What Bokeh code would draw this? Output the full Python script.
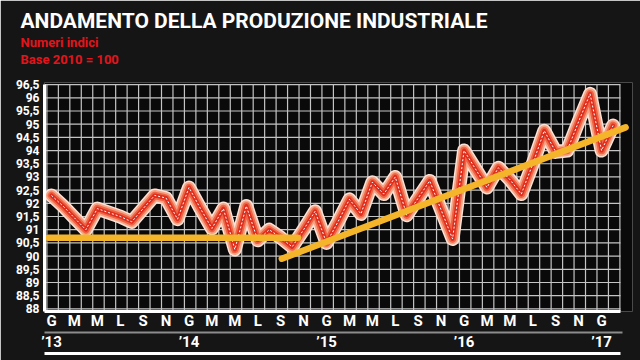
import numpy as np
from bokeh.plotting import figure
from bokeh.models import Range1d, FixedTicker, LinearAxis, Title
from bokeh.embed import file_html
from bokeh.resources import INLINE

# ---------------- data ----------------
TITLE = "ANDAMENTO DELLA PRODUZIONE INDUSTRIALE"
SUB1 = "Numeri indici"
SUB2 = "Base 2010 = 100"

# month index 0 = gennaio 2013 ... 49 = febbraio 2017
months = list(range(50))
values = [92.3, 91.9, 91.45, 91.0, 91.8, 91.65, 91.5, 91.3, 91.8, 92.3,
          92.2, 91.4, 92.6, 91.8, 91.05, 91.8, 90.25, 91.9, 90.6, 91.0,
          90.7, 90.35, 91.0, 91.7, 90.5, 91.3, 92.15, 91.6, 92.8, 92.35,
          93.0, 91.55, 92.2, 92.85, 91.75, 90.65, 94.0, 93.3, 92.6, 93.35,
          92.9, 92.35, 93.5, 94.75, 93.95, 94.0, 95.1, 96.15, 94.0, 94.95]

trend1_x = [-0.26, 21.5]
trend1_y = [90.7, 90.7]
trend2_x = [20.1, 50.1]
trend2_y = [89.9, 94.88]

month_ticks = list(range(0, 49, 2))
month_labels = ["G", "M", "M", "L", "S", "N"] * 4 + ["G"]
year_ticks = [0, 12, 24, 36, 48]
year_labels = ["’13", "’14", "’15", "’16", "’17"]
y_ticks = [88 + 0.5 * i for i in range(18)]
y_labels = [("%g" % t).replace(".", ",") for t in y_ticks]

# ---------------- style ----------------
FONT = "Roboto"
BG = "#151515"
PLOT_BG = "#0a0a0a"
GRID = "#c4c4c4"
RED = "#e3141b"
X0, X1 = -0.61, 50.7
Y0, Y1 = 87.9, 96.58
GRID_RIGHT = 49.65

p = figure(width=640, height=360, x_range=Range1d(X0, X1), y_range=Range1d(Y0, Y1),
           output_backend="svg", toolbar_location=None, title=None,
           min_border_left=44, min_border_right=8, min_border_top=82, min_border_bottom=49)
p.background_fill_color = PLOT_BG
p.border_fill_color = BG
p.outline_line_color = None
p.xgrid.visible = False
p.ygrid.visible = False

# grid drawn from tick arrays
vx = [k - 0.4 for k in range(51)]
p.segment(x0=vx, y0=[Y0] * len(vx), x1=vx, y1=[y_ticks[-1]] * len(vx),
          line_color=GRID, line_width=1.2)
p.segment(x0=[X0] * len(y_ticks), y0=y_ticks, x1=[GRID_RIGHT] * len(y_ticks), y1=y_ticks,
          line_color=GRID, line_width=1.2)

# glowing red series
for w, c in [(14, "#fde2d6"), (11, "#f6a386"), (7.5, "#ee6545"), (4, "#df2e1d")]:
    p.line(months, values, line_width=w, line_color=c, line_join="round", line_cap="round")
p.line(months, values, line_width=1, line_color="white", line_dash="2 2")

# trend lines
p.line(trend1_x, trend1_y, line_width=6.5, line_color="#f5b52a", line_cap="round")
p.line(trend2_x, trend2_y, line_width=6.5, line_color="#f5b52a", line_cap="round")

# y axis
ya = p.yaxis[0]
ya.ticker = FixedTicker(ticks=y_ticks)
ya.major_label_overrides = {t: l for t, l in zip(y_ticks, y_labels)}
ya.axis_line_color = "white"
ya.axis_line_width = 3
ya.bounds = (Y0, y_ticks[-1])
ya.major_tick_line_color = None
ya.minor_tick_line_color = None
ya.major_tick_out = 0
ya.major_label_standoff = 5
ya.major_label_text_font = FONT
ya.major_label_text_font_style = "bold"
ya.major_label_text_font_size = "12px"
ya.major_label_text_color = "white"

# month axis
xa = p.xaxis[0]
xa.ticker = FixedTicker(ticks=month_ticks)
xa.major_label_overrides = {t: l for t, l in zip(month_ticks, month_labels)}
xa.axis_line_color = "white"
xa.axis_line_width = 3
xa.bounds = (X0, GRID_RIGHT)
xa.major_tick_line_color = None
xa.minor_tick_line_color = None
xa.major_tick_out = 0
xa.major_label_standoff = 0
xa.major_label_text_font = FONT
xa.major_label_text_font_style = "bold"
xa.major_label_text_font_size = "15px"
xa.major_label_text_color = "white"

# year axis
ya2 = LinearAxis(ticker=FixedTicker(ticks=year_ticks),
                 major_label_overrides={t: l for t, l in zip(year_ticks, year_labels)},
                 axis_line_color="#8c8c8c", axis_line_width=2, bounds=(-0.96, 49.83),
                 major_tick_line_color=None, minor_tick_line_color=None, major_tick_out=0,
                 major_label_standoff=0, major_label_text_font=FONT,
                 major_label_text_font_style="bold", major_label_text_font_size="15px",
                 major_label_text_color="white")
p.add_layout(ya2, "below")

# bottom white rule
ya3 = LinearAxis(ticker=FixedTicker(ticks=[]), axis_line_color="white", axis_line_width=3,
                 bounds=(-0.8, GRID_RIGHT), major_tick_line_color=None,
                 minor_tick_line_color=None, major_tick_out=0,
                 major_label_text_font_size="0px")
p.add_layout(ya3, "below")

# titles (first added = closest to the frame)
p.add_layout(Title(text=" ", standoff=12, text_font_size="2px"), "above")
p.add_layout(Title(text=SUB2, align="left", offset=-24, standoff=0, text_font=FONT,
                   text_font_style="bold", text_font_size="13px", text_color=RED), "above")
p.add_layout(Title(text=SUB1, align="left", offset=-24, standoff=0, text_font=FONT,
                   text_font_style="bold", text_font_size="13px", text_color=RED), "above")
p.add_layout(Title(text=TITLE, align="left", offset=-24, standoff=0, text_font=FONT,
                   text_font_style="bold", text_font_size="21px", text_color="white"), "above")

html = file_html(p, INLINE)
html = html.replace("<body>", '<body style="background:%s">' % BG, 1)
open("out.html", "w").write(html)
